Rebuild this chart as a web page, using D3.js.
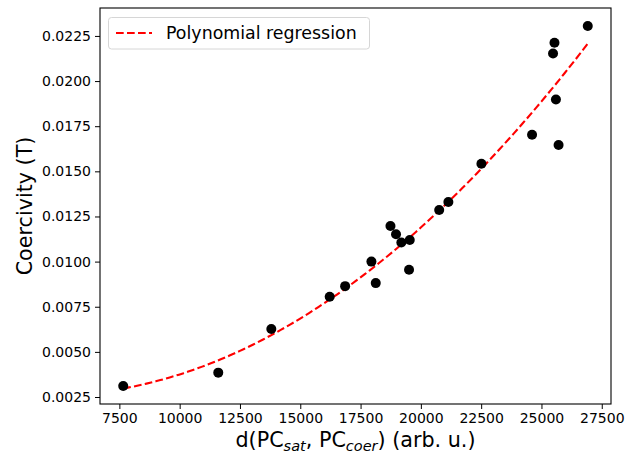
<!DOCTYPE html>
<html>
<head>
<meta charset="utf-8">
<script src="https://cdn.jsdelivr.net/npm/d3@7"></script>
<style>
  body { margin: 0; background: #fff; }
  svg { font-family: "DejaVu Sans", sans-serif; }
</style>
</head>
<body>
<svg width="635" height="456"></svg>
<script>
// scatter data
var distance = [7660, 11600, 13800, 16220, 16860, 17950, 18130, 18740, 18970, 19190,
                19540, 19510, 20760, 21140, 22510, 24610, 25710, 25600, 25480, 25540, 26920];
var coercivity = [0.00311, 0.00385, 0.00627, 0.00805, 0.00864, 0.0100, 0.00881, 0.01197, 0.01152, 0.01106,
                  0.0112, 0.00955, 0.01286, 0.0133, 0.01542, 0.01703, 0.01646, 0.01898, 0.02153, 0.02212, 0.02305];
var xTicks = [7500, 10000, 12500, 15000, 17500, 20000, 22500, 25000, 27500];
var yTicks = [0.0025, 0.005, 0.0075, 0.01, 0.0125, 0.015, 0.0175, 0.02, 0.0225];

var svg = d3.select("svg");
var mLeft = 100, mRight = 611, mTop = 8, mBottom = 404;

// matplotlib style 5% margins
var xExt = d3.extent(distance), yExt = d3.extent(coercivity);
var xPad = (xExt[1] - xExt[0]) * 0.05, yPad = (yExt[1] - yExt[0]) * 0.05;
var x = d3.scaleLinear().domain([xExt[0] - xPad, xExt[1] + xPad]).range([mLeft, mRight]);
var y = d3.scaleLinear().domain([yExt[0] - yPad, yExt[1] + yPad]).range([mBottom, mTop]);

// least squares fit, degree 2
function polyfit(xs, ys) {
    var n = xs.length, m = d3.mean(xs), s = 10000;
    var S = [0, 0, 0, 0, 0], T = [0, 0, 0];
    for (var i = 0; i < n; i++) {
        var u = (xs[i] - m) / s;
        for (var k = 0; k < 5; k++) S[k] += Math.pow(u, k);
        for (var k = 0; k < 3; k++) T[k] += ys[i] * Math.pow(u, k);
    }
    var A = [[S[0], S[1], S[2], T[0]], [S[1], S[2], S[3], T[1]], [S[2], S[3], S[4], T[2]]];
    for (var c = 0; c < 3; c++) {
        for (var r = c + 1; r < 3; r++) {
            var f = A[r][c] / A[c][c];
            for (var k = c; k < 4; k++) A[r][k] -= f * A[c][k];
        }
    }
    var b = [0, 0, 0];
    for (var r = 2; r >= 0; r--) {
        var sum = A[r][3];
        for (var k = r + 1; k < 3; k++) sum -= A[r][k] * b[k];
        b[r] = sum / A[r][r];
    }
    return function(v) { var u = (v - m) / s; return b[0] + b[1] * u + b[2] * u * u; };
}
var fit = polyfit(distance, coercivity);
var fitX = d3.range(0, 101).map(function(i) { return xExt[0] + (xExt[1] - xExt[0]) * i / 100; });

// axes
var xAxis = svg.append("g").attr("transform", "translate(0," + mBottom + ")")
    .call(d3.axisBottom(x).tickValues(xTicks).tickFormat(d3.format("d")).tickSize(5).tickPadding(4));
var yAxis = svg.append("g").attr("transform", "translate(" + mLeft + ",0)")
    .call(d3.axisLeft(y).tickValues(yTicks).tickFormat(d3.format(".4f")).tickSize(5).tickPadding(4));
[xAxis, yAxis].forEach(function(a) {
    a.select(".domain").remove();
    a.selectAll("text").attr("font-size", 14).attr("fill", "#000").attr("font-family", "DejaVu Sans");
    a.selectAll("line").attr("stroke", "#000").attr("stroke-width", 1);
});

// regression line
svg.append("path")
    .datum(fitX)
    .attr("fill", "none")
    .attr("stroke", "#ff0000")
    .attr("stroke-width", 2.1)
    .attr("stroke-dasharray", "7.7,3.3")
    .attr("d", d3.line().x(function(d) { return x(d); }).y(function(d) { return y(fit(d)); }));

// points
svg.append("g").selectAll("circle")
    .data(distance)
    .enter().append("circle")
    .attr("cx", function(d) { return x(d); })
    .attr("cy", function(d, i) { return y(coercivity[i]); })
    .attr("r", 5)
    .attr("fill", "#000");

// frame
svg.append("rect")
    .attr("x", mLeft).attr("y", mTop)
    .attr("width", mRight - mLeft).attr("height", mBottom - mTop)
    .attr("fill", "none").attr("stroke", "#000").attr("stroke-width", 1.1);

// legend
var lg = svg.append("g");
lg.append("rect")
    .attr("x", 108.5).attr("y", 17.5).attr("width", 261).attr("height", 31.5).attr("rx", 3)
    .attr("fill", "#fff").attr("fill-opacity", 0.8).attr("stroke", "#d6d6d6");
lg.append("line")
    .attr("x1", 116).attr("x2", 152).attr("y1", 33).attr("y2", 33)
    .attr("stroke", "#ff0000").attr("stroke-width", 2.1).attr("stroke-dasharray", "7.7,3.3");
lg.append("text")
    .attr("x", 166).attr("y", 38.5).attr("font-size", 17.4)
    .text("Polynomial regression");

// axis labels
var xl = svg.append("text")
    .attr("x", (mLeft + mRight) / 2).attr("y", 447)
    .attr("text-anchor", "middle").attr("font-size", 20.7);
xl.append("tspan").text("d(PC");
xl.append("tspan").attr("font-style", "italic").attr("font-size", 14.5).attr("dy", 3.5).text("sat");
xl.append("tspan").attr("dy", -3.5).text(", PC");
xl.append("tspan").attr("font-style", "italic").attr("font-size", 14.5).attr("dy", 3.5).text("coer");
xl.append("tspan").attr("dy", -3.5).text(") (arb. u.)");

svg.append("text")
    .attr("transform", "translate(32," + (mTop + mBottom) / 2 + ") rotate(-90)")
    .attr("text-anchor", "middle").attr("font-size", 20.7)
    .text("Coercivity (T)");
</script>
</body>
</html>
